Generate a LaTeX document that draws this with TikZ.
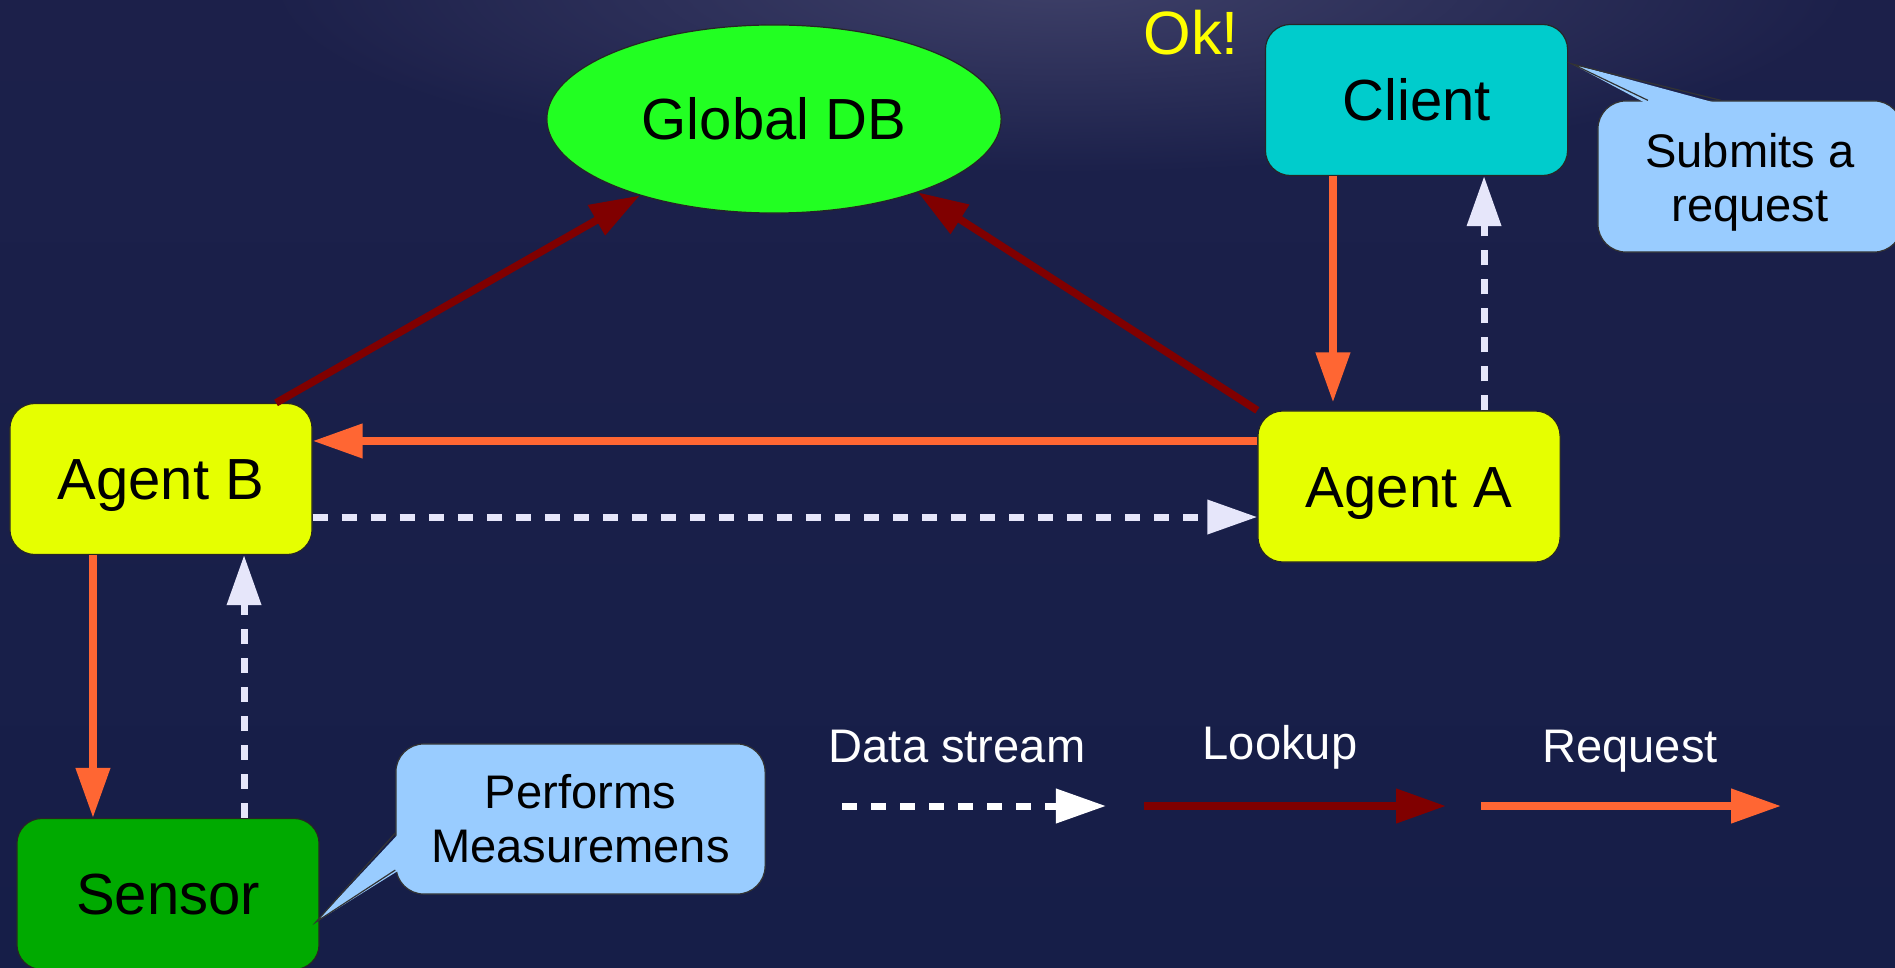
\documentclass[tikz,border=0pt]{standalone}
\usepackage{fontspec}
\setmainfont{Liberation Sans}
\usetikzlibrary{arrows.meta,shapes.geometric,calc,fadings}

\definecolor{bgnavy}{HTML}{161E48}
\definecolor{bgtop}{HTML}{1C204A}
\definecolor{bgglow}{HTML}{3E4068}
\definecolor{dbgreen}{HTML}{22FF22}
\definecolor{agentyellow}{HTML}{E6FF00}
\definecolor{clientcyan}{HTML}{00CCCC}
\definecolor{sensorgreen}{HTML}{00AA00}
\definecolor{noteblue}{HTML}{99CCFF}
\definecolor{reqorange}{HTML}{FF6633}
\definecolor{lookupred}{HTML}{800000}
\definecolor{streamwhite}{HTML}{E6E6FA}
\definecolor{okyellow}{HTML}{FFFF00}

\tikzfading[name=glowfade, inner color=transparent!0, outer color=transparent!100]

\begin{document}
\begin{tikzpicture}[x=0.01cm, y=-0.01cm,
  bigtext/.style={font=\fontsize{16.5}{19.8}\selectfont},
  smalltext/.style={font=\fontsize{13.4}{15.4}\selectfont},
  box/.style={bigtext, draw=black!85, line width=0.012cm, rounded corners=0.25cm,
    minimum width=3.02cm, minimum height=1.51cm, inner sep=0pt,
    text height=0.415cm, text depth=0pt},
  db/.style={bigtext, ellipse, draw=black!85, line width=0.012cm, fill=dbgreen,
    minimum width=4.54cm, minimum height=1.88cm, inner sep=0pt,
    text height=0.415cm, text depth=0pt},
  note/.style={smalltext, fill=noteblue, draw=black!80, line width=0.012cm,
    rounded corners=0.28cm, inner sep=0pt, align=center},
  notetip/.style={fill=noteblue},
  noteedge/.style={draw=black!80, line width=0.012cm},
  tip/.style={-{Triangle[length=0.5cm,width=0.33cm]}},
  req/.style={tip, draw=reqorange, line width=0.075cm},
  look/.style={tip, draw=lookupred, line width=0.075cm},
  stream/.style={tip, draw=streamwhite, line width=0.07cm, dash pattern=on 0.15cm off 0.14cm},
  legendtext/.style={smalltext, text=white, anchor=base, inner sep=0pt}
]
\useasboundingbox (0,0) rectangle (1895,967);

% background: dark navy, slightly lighter at the top, with a soft glow
\shade[top color=bgtop, bottom color=bgnavy] (0,0) rectangle (1895,967);
\begin{scope}
  \clip (0,0) rectangle (1895,967);
  \fill[bgglow, path fading=glowfade] (1060,-15) ellipse [x radius=8cm, y radius=1.9cm];
\end{scope}

% main nodes
\node[db] (db) at (774,119) {Global DB};
\node[box, fill=clientcyan] (client) at (1416.5,100) {Client};
\node[box, fill=agentyellow] (agentA) at (1409,486.5) {Agent A};
\node[box, fill=agentyellow] (agentB) at (161,479) {Agent B};
\node[box, fill=sensorgreen] (sensor) at (168,894) {Sensor};

\node[text=okyellow, font=\fontsize{17.4}{20}\selectfont, anchor=base, inner sep=0pt] (ok) at (1191,55) {Ok!};

% speech bubbles
\node[note, minimum width=3.69cm, minimum height=1.50cm] (perf) at (580.5,819) {Performs\\Measuremens};
\coordinate (perfTip) at (316,922);
\coordinate (perfA) at ([yshift=-0.14cm]perf.west);
\coordinate (perfB) at ([yshift=-0.51cm]perf.west);
\fill[notetip] ([xshift=0.04cm]perfA) -- (perfTip) -- ([xshift=0.04cm]perfB) -- cycle;
\draw[noteedge] (perfA) -- (perfTip) -- (perfB);

\node[note, minimum width=3.04cm, minimum height=1.51cm, text height=1.0cm] (subm) at (1750,176.5) {Submits a\\request};
\coordinate (submTip) at (1572,64);
\coordinate (submA) at ([xshift=-1.02cm]subm.north);
\coordinate (submB) at ([xshift=-0.29cm]subm.north);
\fill[notetip] ([yshift=-0.04cm]submA) -- (submTip) -- ([yshift=-0.04cm]submB) -- cycle;
\draw[noteedge] (submA) -- (submTip) -- (submB);

% lookups into the global database
\draw[look] ([xshift=1.15cm]agentB.north) -- (db);
\draw[look] (agentA.north west) -- (db.-27);

% requests
\coordinate (c1) at ([xshift=-0.835cm]client.south);
\draw[req, shorten >=0.08cm] (c1) -- (c1 |- agentA.north);
\coordinate (a2) at ([yshift=0.455cm]agentA.west);
\draw[req] (a2) -- (a2 -| agentB.east);
\coordinate (b2) at ([xshift=-0.68cm]agentB.south);
\draw[req] (b2) -- (b2 |- sensor.north);

% data streams
\coordinate (a1) at ([xshift=0.75cm]agentA.north);
\draw[stream] (a1) -- (a1 |- client.south);
\coordinate (b1) at ([yshift=-0.38cm]agentB.east);
\draw[stream] (b1) -- (b1 -| agentA.west);
\coordinate (s1) at ([xshift=0.76cm]sensor.north);
\draw[stream] (s1) -- (s1 |- agentB.south);

% legend
\node[legendtext] (lgStream) at (957,762) {Data stream};
\node[legendtext] (lgLookup) at (1280,759) {Lookup};
\node[legendtext] (lgRequest) at (1630,762) {Request};
\coordinate (lsA) at (842,806);
\coordinate (lsB) at (1106,806);
\coordinate (llA) at (1144,806);
\coordinate (llB) at (1446,806);
\coordinate (lrA) at (1481,806);
\coordinate (lrB) at (1781,806);
\draw[stream, draw=white] (lsA) -- (lsB);
\draw[look] (llA) -- (llB);
\draw[req] (lrA) -- (lrB);
\end{tikzpicture}
\end{document}
